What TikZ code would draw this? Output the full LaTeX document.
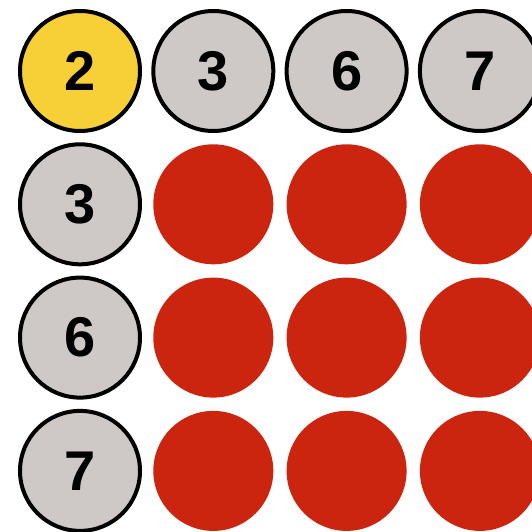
\documentclass[tikz,border=0pt]{standalone}
\usepackage{fontspec}
\setmainfont{Liberation Sans}
\usetikzlibrary{positioning}
\definecolor{headyellow}{HTML}{F7D038}
\definecolor{headgray}{HTML}{CEC8C7}
\definecolor{cellred}{HTML}{CC250F}

\begin{document}
\begin{tikzpicture}[x=1pt,y=-1pt,
  head/.style={circle,draw=black,line width=4pt,fill=headgray,minimum size=120pt,inner sep=0pt,font=\fontsize{56}{56}\selectfont\bfseries},
  cell/.style={circle,fill=cellred,minimum size=120pt,inner sep=0pt}]
  \useasboundingbox (0,0) rectangle (532,532);
  \node[head,fill=headyellow] (corner) at (80,71) {2};
  \foreach \v [count=\i] in {3,6,7}{
    \node[head] (top\i) at (80+133.3*\i,71) {\v};
    \node[head] (side\i) at (80,71+133.3*\i) {\v};
  }
  % red cells
  \foreach \r in {1,2,3}{\foreach \c in {1,2,3}{\node[cell] (cell\r\c) at (80+133.3*\c,71+133.3*\r) {};}}
\end{tikzpicture}
\end{document}
